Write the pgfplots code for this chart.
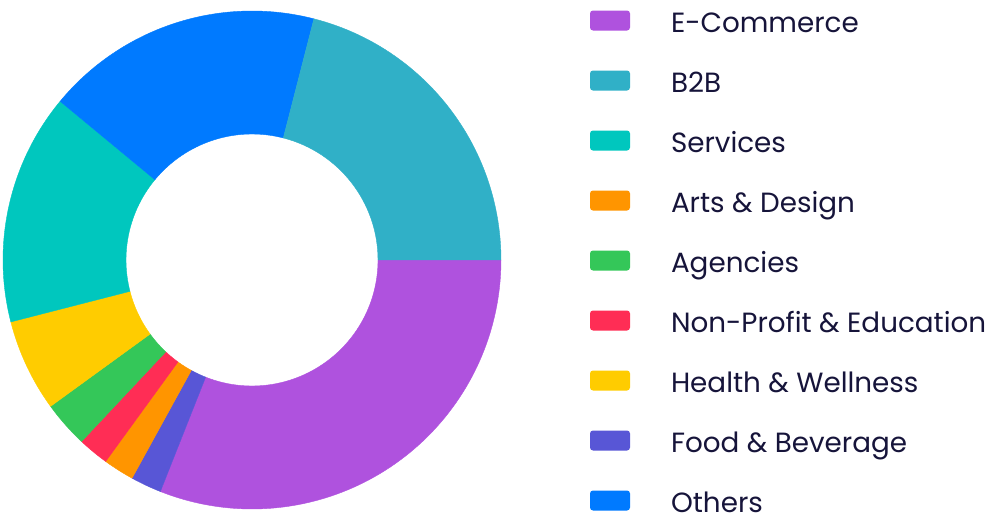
\documentclass[border=0pt]{standalone}
\usepackage{fontspec}
\setmainfont{Poppins}
\usepackage{pgfplots}
\pgfplotsset{compat=1.18}
\definecolor{cEcom}{HTML}{AF52DE}
\definecolor{cB2B}{HTML}{30B0C7}
\definecolor{cServices}{HTML}{00C7BE}
\definecolor{cArts}{HTML}{FF9500}
\definecolor{cAgency}{HTML}{34C759}
\definecolor{cNonprofit}{HTML}{FF2D55}
\definecolor{cHealth}{HTML}{FFCC00}
\definecolor{cFood}{HTML}{5856D6}
\definecolor{cOthers}{HTML}{007AFF}
\definecolor{txt}{RGB}{22,20,58}
\begin{document}
\begin{tikzpicture}
\begin{axis}[
  x=1pt, y=1pt, xmin=0, xmax=988, ymin=0, ymax=520,
  hide axis, clip=false,
  legend image code/.code={\fill[#1, draw=none, rounded corners=3pt] (0pt,-6.25pt) rectangle (40pt,13.75pt);},
  legend cell align=left,
  legend style={at={(axis cs:590,509.5)}, anchor=north west, draw=none, fill=none,
    inner sep=0pt, outer sep=0pt, column sep=41pt, row sep=32.5pt,
    font=\fontsize{27.8}{28}\selectfont, text=txt,
    nodes={inner sep=0pt, text height=21.5pt, text depth=6pt}},
]
\pgfplotsextra{%
  \gdef\acc{0}%
  \foreach \v/\c in {31/cEcom,2/cFood,2/cArts,2/cNonprofit,3/cAgency,6/cHealth,15/cServices,18/cOthers,21/cB2B}{%
    \pgfmathsetmacro\aone{-3.6*\acc}%
    \pgfmathsetmacro\atwo{-3.6*(\acc+\v)}%
    \fill[\c, draw=\c, line width=0.4pt] ([shift={(\aone:249pt)}]axis cs:252,260)
      arc[start angle=\aone, end angle=\atwo, radius=249pt]
      -- ([shift={(\atwo:126pt)}]axis cs:252,260)
      arc[start angle=\atwo, end angle=\aone, radius=126pt] -- cycle;
    \pgfmathsetmacro\newacc{\acc+\v}%
    \xdef\acc{\newacc}%
  }%
}
\addlegendimage{fill=cEcom}\addlegendentry{E-Commerce}
\addlegendimage{fill=cB2B}\addlegendentry{B2B}
\addlegendimage{fill=cServices}\addlegendentry{Services}
\addlegendimage{fill=cArts}\addlegendentry{Arts \& Design}
\addlegendimage{fill=cAgency}\addlegendentry{Agencies}
\addlegendimage{fill=cNonprofit}\addlegendentry{Non-Profit \& Education}
\addlegendimage{fill=cHealth}\addlegendentry{Health \& Wellness}
\addlegendimage{fill=cFood}\addlegendentry{Food \& Beverage}
\addlegendimage{fill=cOthers}\addlegendentry{Others}
\end{axis}
\pgfresetboundingbox
\path (0,0) rectangle (988pt,520pt);
\end{tikzpicture}
\end{document}
